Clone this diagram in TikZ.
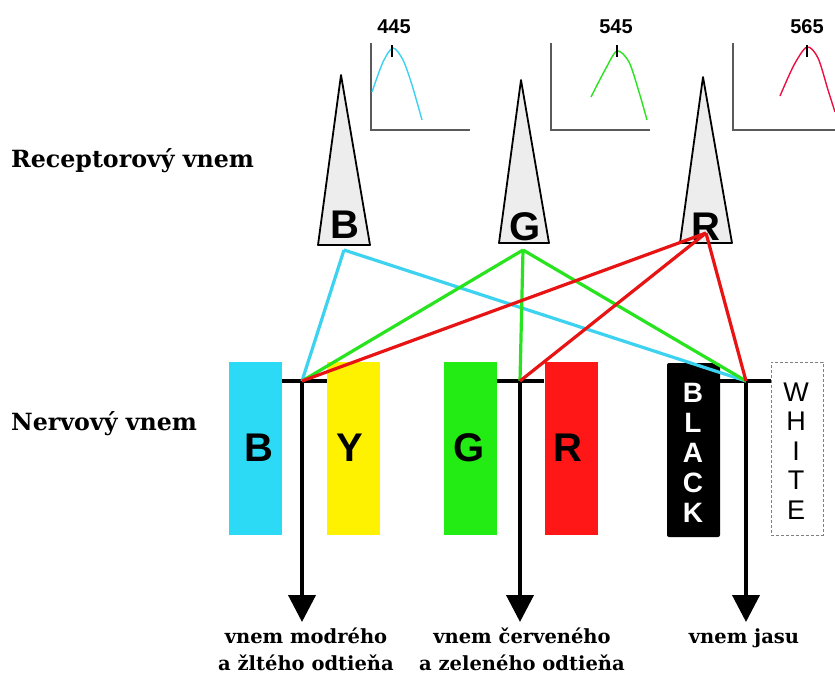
\documentclass[tikz,border=0pt]{standalone}
\usepackage{fontspec}
\setmainfont{DejaVu Serif}
\newfontfamily\sansf{Liberation Sans}
\usetikzlibrary{arrows.meta}
\definecolor{bxcyan}{RGB}{45,218,245}
\definecolor{bxyellow}{RGB}{255,242,0}
\definecolor{bxgreen}{RGB}{34,236,20}
\definecolor{bxred}{RGB}{255,22,22}
\definecolor{lncyan}{RGB}{60,210,240}
\definecolor{lngreen}{RGB}{40,228,30}
\definecolor{lnred}{RGB}{232,20,20}
\definecolor{axgray}{RGB}{90,90,90}
\tikzset{
  cone/.style={draw=black, line width=1.8pt, fill=gray!14, line join=round},
  conelbl/.style={font=\sansf\bfseries\fontsize{40}{40}\selectfont, inner sep=0pt},
  boxlbl/.style={font=\sansf\bfseries\fontsize{40}{40}\selectfont, inner sep=0pt},
  nbox/.style={minimum width=53pt, minimum height=173pt, inner sep=0pt},
  bar/.style={line width=4pt, draw=black},
  axisln/.style={draw=axgray, line width=1.3pt},
  spec/.style={line width=1.4pt},
  conn/.style={line width=3.2pt},
  sidelbl/.style={font=\bfseries\fontsize{23.7}{25}\selectfont, anchor=base west, inner sep=0pt},
  botlbl/.style={font=\bfseries\fontsize{19.5}{27}\selectfont, align=center, inner sep=0pt, anchor=north},
  numlbl/.style={font=\sansf\bfseries\fontsize{20}{20}\selectfont, inner sep=0pt},
  tip/.style={-{Triangle[width=27pt,length=27pt]}}
}
\begin{document}
\begin{tikzpicture}[x=1pt,y=-1pt]
\useasboundingbox[fill=white] (0,0) rectangle (835,688);

% spectral graphs
\draw[axisln] (371,43) -- (371,130) -- (470,130);
\draw[axisln] (551,43) -- (551,130) -- (650,130);
\draw[axisln] (733,43) -- (733,130) -- (835,130);
\draw[spec, draw=lncyan] plot[smooth] coordinates {(372,92) (383,62) (393,48) (403,60) (412,85) (422,120)};
\draw[spec, draw=lngreen] plot[smooth] coordinates {(591,97) (605,70) (617,51) (629,62) (639,92) (647,120)};
\draw[spec, draw=lnred!80!magenta] plot[smooth] coordinates {(780,96) (794,65) (807,47) (818,58) (828,90) (835,112)};
\draw[line width=2pt] (392,45) -- (392,57);
\draw[line width=2pt] (617,45) -- (617,57);
\draw[line width=2pt] (807,45) -- (807,57);
\node[numlbl] (n445) at (394,27) {445};
\node[numlbl] (n545) at (616,27) {545};
\node[numlbl] (n565) at (807,27) {565};

% cones
\draw[cone] (341,75) -- (370,245) -- (318,245) -- cycle;
\draw[cone] (521,80) -- (549,243) -- (499,243) -- cycle;
\draw[cone] (703,77) -- (732,243) -- (680,243) -- cycle;
\node[conelbl] (cBl) at (345,225) {B};
\node[conelbl] (cGl) at (525,227) {G};
\node[conelbl] (cRl) at (706,227) {R};
\coordinate (cB) at (344,250);
\coordinate (cG) at (523,250);
\coordinate (cR) at (706,233);

% side labels
\node[sidelbl] (rec) at (11,167) {Receptorový vnem};
\node[sidelbl] (ner) at (11,430) {Nervový vnem};

% neural boxes
\node[nbox, fill=bxcyan] (bB) at (255,448.5) {};
\node[nbox, fill=bxyellow] (bY) at (353.5,448.5) {};
\node[nbox, fill=bxgreen] (bG) at (470,448.5) {};
\node[nbox, fill=bxred] (bR) at (571,448.5) {};
\node[nbox, fill=black, rounded corners=2pt, minimum height=174pt] (bK) at (693.5,450) {};
\node[nbox, draw=gray, densely dashed, line width=0.8pt, minimum width=52pt] (bW) at (797,448.5) {};
\node[boxlbl] (lB) at (259,448) {B};
\node[boxlbl] (lY) at (350,448) {Y};
\node[boxlbl] (lG) at (469,448) {G};
\node[boxlbl] (lR) at (568,448) {R};
\node[font=\sansf\bfseries\fontsize{28}{30}\selectfont, text=white, align=center, inner sep=0pt] (lK) at (693,453) {B\\L\\A\\C\\K};
\node[font=\sansf\fontsize{27}{29.5}\selectfont, align=center, inner sep=0pt] (lW) at (796,451) {W\\H\\I\\T\\E};

% junctions
\coordinate (jBY) at (302,381);
\coordinate (jGR) at (520,381);
\coordinate (jBW) at (746,381);
\coordinate (aBY) at (302,622);
\coordinate (aGR) at (520,622);
\coordinate (aBW) at (746,622);
\draw[bar] (bB.east |- jBY) -- (bY.west |- jBY);
\draw[bar] (bG.east |- jGR) -- (bR.west |- jGR);
\draw[bar] (bK.east |- jBW) -- (bW.west |- jBW);
\draw[bar, tip] (jBY) -- (aBY);
\draw[bar, tip] (jGR) -- (aGR);
\draw[bar, tip] (jBW) -- (aBW);

% connectors
\draw[conn, draw=lncyan] (cB) -- (jBY);
\draw[conn, draw=lncyan] (cB) -- (jBW);
\draw[conn, draw=lngreen] (cG) -- (jBY);
\draw[conn, draw=lngreen] (cG) -- (jGR);
\draw[conn, draw=lngreen] (cG) -- (jBW);
\draw[conn, draw=lnred] (cR) -- (jBY);
\draw[conn, draw=lnred] (cR) -- (jGR);
\draw[conn, draw=lnred] (cR) -- (jBW);

% bottom labels
\node[botlbl] (tBY) at (306,628) {vnem modrého\\a žltého odtieňa};
\node[botlbl] (tGR) at (522,628) {vnem červeného\\a zeleného odtieňa};
\node[botlbl] (tBW) at (744,628) {vnem jasu};
\end{tikzpicture}
\end{document}
